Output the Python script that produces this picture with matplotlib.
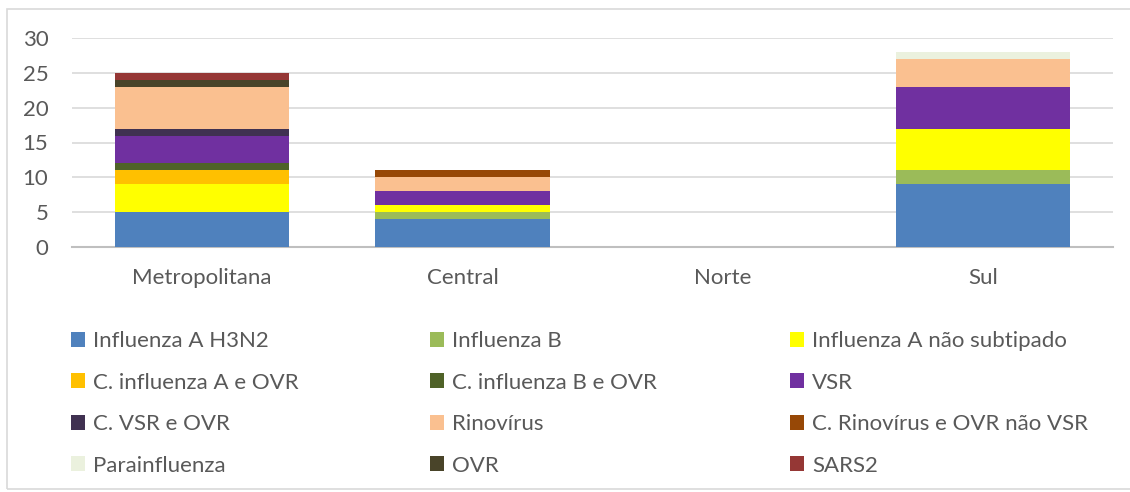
import numpy as np
import matplotlib.pyplot as plt
from matplotlib.patches import Patch, Rectangle

plt.rcParams["font.family"] = ["Lato", "DejaVu Sans"]

regions = ["Metropolitana", "Central", "Norte", "Sul"]
series = [
    "Influenza A H3N2", "Influenza B", "Influenza A não subtipado",
    "C. influenza A e OVR", "C. influenza B e OVR", "VSR",
    "C. VSR e OVR", "Rinovírus", "C. Rinovírus e OVR não VSR",
    "Parainfluenza", "OVR", "SARS2",
]
colors = [
    "#4F81BD", "#9BBB59", "#FFFF00",
    "#FFC000", "#4F6228", "#7030A0",
    "#403151", "#FAC090", "#974806",
    "#EBF1DE", "#494429", "#953735",
]
# values per series, order: Metropolitana, Central, Norte, Sul
h3n2 = [5, 4, 0, 9]
flu_b = [0, 1, 0, 2]
flu_a_ns = [4, 1, 0, 6]
c_flu_a = [2, 0, 0, 0]
c_flu_b = [1, 0, 0, 0]
vsr = [4, 2, 0, 6]
c_vsr = [1, 0, 0, 0]
rino = [6, 2, 0, 4]
c_rino = [0, 1, 0, 0]
parainf = [0, 0, 0, 1]
ovr = [1, 0, 0, 0]
sars2 = [1, 0, 0, 0]
values = [h3n2, flu_b, flu_a_ns, c_flu_a, c_flu_b, vsr,
          c_vsr, rino, c_rino, parainf, ovr, sars2]

text_col = "#595959"
fig = plt.figure(figsize=(11.3, 4.92), dpi=100)
ax = fig.add_axes([72 / 1130, 1 - 247 / 492, (1113 - 72) / 1130, (247 - 38) / 492])

x = np.arange(len(regions))
bottom = np.zeros(len(regions))
for name, vals, c in zip(series, values, colors):
    ax.bar(x, vals, 0.67, bottom=bottom, color=c, label=name, zorder=3)
    bottom += np.array(vals)

ax.set_xlim(-0.5, 3.5)
ax.set_ylim(0, 30)
ax.set_yticks(range(0, 31, 5))
ax.set_xticks(x)
ax.set_xticklabels(regions)
ax.grid(axis="y", color="#D9D9D9", linewidth=1.2, zorder=0)
for s in ["top", "right", "left"]:
    ax.spines[s].set_visible(False)
ax.spines["bottom"].set_color("#BFBFBF")
ax.spines["bottom"].set_linewidth(1.5)
ax.tick_params(axis="both", length=0, labelsize=16, colors=text_col)
ax.tick_params(axis="y", pad=17)
ax.tick_params(axis="x", pad=15)

# legend: three columns placed at fixed positions
col_x = [71, 430, 790]
for j in range(3):
    handles = [Patch(facecolor=colors[i], label=series[i]) for i in range(j, 12, 3)]
    leg = fig.legend(handles=handles, loc="upper left",
                     bbox_to_anchor=(col_x[j] / 1130, 1 - 331 / 492),
                     frameon=False, fontsize=16, labelcolor=text_col,
                     handlelength=0.65, handleheight=0.65, handletextpad=0.35,
                     labelspacing=0.97, borderpad=0, borderaxespad=0)

fig.patches.append(Rectangle((7 / 1130, 3 / 492), 1.0, 1 - 12 / 492,
                             transform=fig.transFigure, fill=False,
                             edgecolor="#D9D9D9", linewidth=1.2))

fig.savefig("out.png", dpi=100)
